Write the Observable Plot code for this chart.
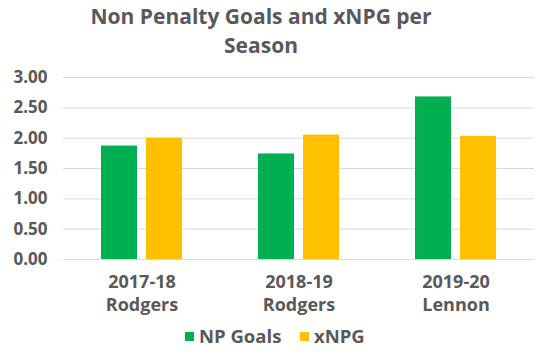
<!DOCTYPE html>
<html><head><meta charset="utf-8">
<script src="https://cdn.jsdelivr.net/npm/d3@7"></script>
<script src="https://cdn.jsdelivr.net/npm/@observablehq/plot@0.6"></script>
<style>
body{margin:0;background:#fff;font-family:"Open Sans",Lato,sans-serif;color:#595959;}
#wrap{width:546px;height:358px;position:relative;overflow:hidden;}
#title{position:absolute;left:0;top:2px;width:522px;text-align:center;font-weight:bold;font-size:21px;line-height:29px;}
#chart{position:absolute;left:0;top:60px;}
#legend{position:absolute;left:0;top:323px;width:546px;font-weight:bold;font-size:18.5px;}
.sw{position:absolute;top:9px;width:9px;height:9px;}
.lt{position:absolute;top:0;line-height:26px;}
</style></head><body>
<div id="wrap">
<div id="title">Non Penalty Goals and xNPG per<br>Season</div>
<div id="chart"></div>
<div id="legend"></div>
</div>
<script>
const seasons = ["2017-18\nRodgers", "2018-19\nRodgers", "2019-20\nLennon"];
const seriesNames = ["NP Goals", "xNPG"];
const npGoals = [1.87, 1.74, 2.68];
const xNPG = [2.00, 2.05, 2.03];
const colors = ["#00b050", "#ffc000"];
const yTicks = [0, 0.5, 1, 1.5, 2, 2.5, 3];

const data = [];
seasons.forEach((s, i) => {
  data.push({season: s, series: seriesNames[0], value: npGoals[i]});
  data.push({season: s, series: seriesNames[1], value: xNPG[i]});
});

const chart = Plot.plot({
  width: 546,
  height: 258,
  marginTop: 17,
  marginBottom: 59,
  marginLeft: 63,
  marginRight: 12,
  style: {fontFamily: "'Open Sans', Lato, sans-serif", fontWeight: "bold", fontSize: "17px", color: "#595959", background: "#fff", overflow: "visible"},
  fx: {domain: seasons, padding: 0, label: null, axis: null},
  x: {domain: seriesNames, paddingInner: 0.2, paddingOuter: 0.844, axis: null},
  y: {domain: [0, 3], ticks: yTicks, label: null},
  color: {domain: seriesNames, range: colors},
  marks: [
    Plot.gridY(yTicks, {stroke: "#d9d9d9", strokeOpacity: 1, strokeWidth: 1}),
    Plot.barY(data, {fx: "season", x: "series", y: "value", fill: "series"}),
    Plot.axisY(yTicks, {tickSize: 0, tickPadding: 16, tickFormat: d3.format(".2f"), fontSize: 17, fontWeight: "bold", fill: "#595959"}),
    Plot.axisFx({anchor: "bottom", tickSize: 0, tickPadding: 13, fontSize: 18, fontWeight: "bold", fill: "#595959", lineHeight: 1.25, label: null})
  ]
});
document.getElementById("chart").appendChild(chart);

const legend = document.getElementById("legend");
const pos = [{sw: 185, tx: 199}, {sw: 300, tx: 314}];
seriesNames.forEach((n, i) => {
  const sw = document.createElement("div");
  sw.className = "sw"; sw.style.left = pos[i].sw + "px"; sw.style.background = colors[i];
  legend.appendChild(sw);
  const t = document.createElement("div");
  t.className = "lt"; t.style.left = pos[i].tx + "px"; t.textContent = n;
  legend.appendChild(t);
});
</script>
</body></html>
